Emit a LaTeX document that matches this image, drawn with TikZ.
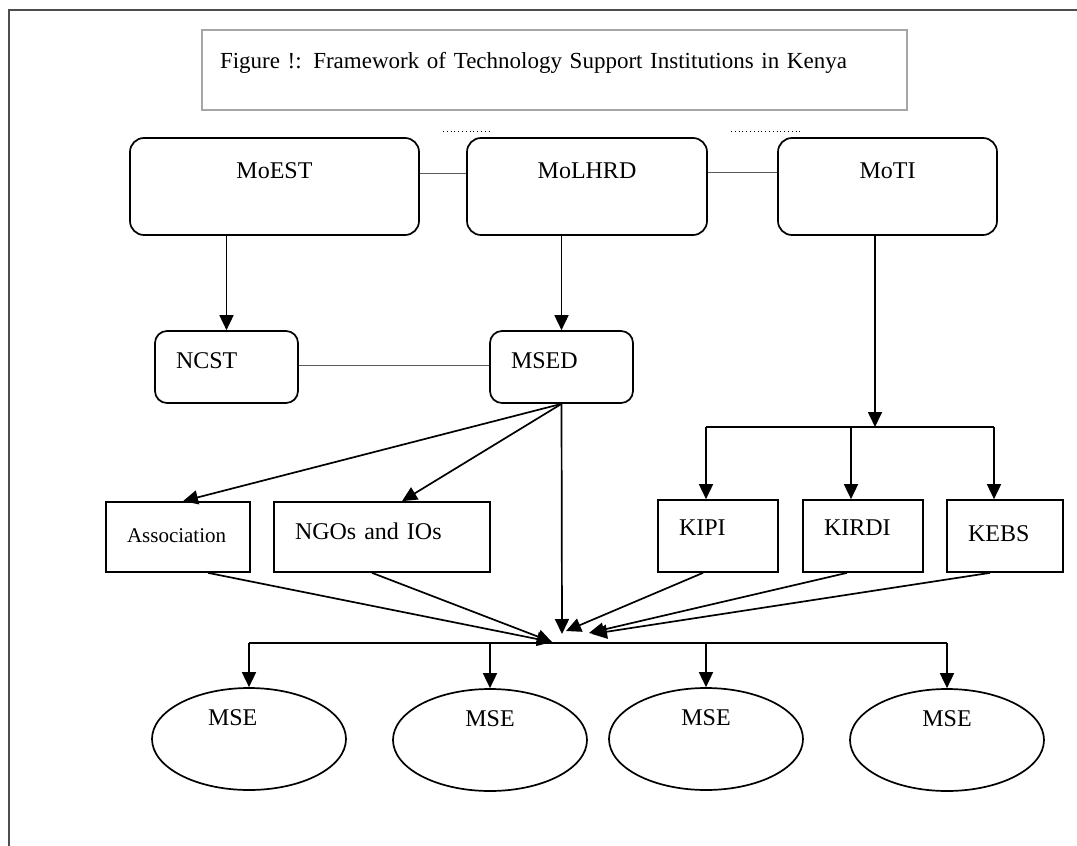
\documentclass[tikz,border=0pt]{standalone}
\usepackage{fontspec}
\setmainfont{Liberation Serif}
\usepackage{tikz}
\usetikzlibrary{
  arrows.meta,
  positioning,
  shapes.geometric,
  calc
}
\definecolor{FrameGrey}{HTML}{4D4D4D}
\definecolor{TitleGrey}{HTML}{A6A6A6}
\definecolor{LinkGrey}{HTML}{5A5A5A}
\newcommand\boxfont{\fontsize{24}{27}\selectfont}
\newcommand\titlefont{\fontsize{23}{26}\selectfont}

\begin{document}
\begin{tikzpicture}[x=1pt,y=-1pt,
    ministry/.style={draw,line width=1.7pt,rounded corners=14pt,font=\boxfont,
      minimum height=97pt,text height=16pt,text depth=33pt},
    agency/.style={draw,line width=1.7pt,rounded corners=12pt,font=\boxfont,
      minimum height=72pt,inner xsep=21pt,align=left,text height=16pt,text depth=14pt},
    unit/.style={draw,line width=1.7pt,font=\boxfont,minimum height=72pt,
      inner xsep=21pt,align=left,text height=16pt,text depth=17pt},
    mse/.style={draw,ellipse,line width=1.7pt,font=\boxfont,minimum width=194pt,
      minimum height=102pt,inner sep=0pt,text height=16pt,text depth=44pt},
    link/.style={draw=LinkGrey,line width=1pt},
    tree/.style={line width=1.7pt},
    arr/.style={tree,-{Triangle[length=15pt,width=14pt]}}]
  \useasboundingbox (0,0) rectangle (1077,846);
  \draw[FrameGrey,line width=2.2pt] (9,846) -- (9,10) -- (1077,10);

  % title
  \node[draw=TitleGrey,line width=1.4pt,minimum height=80pt,text width=669pt,
        inner xsep=18pt,align=left,font=\titlefont,text height=15pt,text depth=18pt]
        (title) at (554.5,70) {Figure !: Framework of Technology Support Institutions in Kenya};
  \draw[line width=1pt,dash pattern=on 1pt off 2.8pt] (443,131) -- (489,131);
  \draw[line width=1pt,dash pattern=on 1pt off 2.8pt] (731,131) -- (801,131);

  % ministries
  \node[ministry,minimum width=289pt] (moest)  at (274.5,186.5) {MoEST};
  \node[ministry,minimum width=240pt] (molhrd) at (587,186.5)   {MoLHRD};
  \node[ministry,minimum width=219pt] (moti)   at (887.5,186.5) {MoTI};
  \draw[link] ([yshift=13pt]moest.east)  -- ([yshift=13pt]molhrd.west);
  \draw[link] ([yshift=14pt]molhrd.east) -- ([yshift=14pt]moti.west);

  % second level
  \node[agency,text width=101pt] (ncst) at (226.5,367) {NCST};
  \node[agency,text width=101pt] (msed) at (561.5,367) {MSED};
  \draw[link] ([yshift=2pt]ncst.east) -- ([yshift=2pt]msed.west);
  \draw[arr] (moest.south -| ncst.north) -- (ncst.north);
  \draw[arr] (molhrd.south -| msed.north) -- (msed.north);

  % support bodies
  \node[unit,text width=102pt,font=\fontsize{21}{24}\selectfont,text height=14pt,text depth=4pt,
        minimum height=70pt] (assoc) at (178,537) {Association};
  \node[unit,text width=174pt,text depth=11pt,minimum height=70pt] (ngos) at (382,537) {NGOs and IOs};
  \node[unit,text width=78pt] (kipi)  at (718,536)  {KIPI};
  \node[unit,text width=78pt] (kirdi) at (863,536)  {KIRDI};
  \node[unit,text width=74pt,text depth=5pt] (kebs) at (1005,536) {KEBS};

  \draw[arr] (msed.south) -- ([xshift=5pt]assoc.north);
  \draw[arr] (msed.south) -- ([xshift=20pt]ngos.north);

  \coordinate (kfork) at (875,427);
  \draw[arr] (moti.south -| kfork) -- (kfork);
  \draw[tree] ([xshift=-12pt]kipi.north |- kfork) -- ([xshift=-11pt]kebs.north |- kfork);
  \foreach \n/\s in {kipi/-12,kirdi/-12,kebs/-11}
    \draw[arr] ([xshift=\s pt]\n.north |- kfork) -- ([xshift=\s pt]\n.north);

  % enterprises
  \node[mse,text width=82pt,align=left] (mse1) at (249,739) {MSE};
  \node[mse] (mse2) at (490,740) {MSE};
  \node[mse] (mse3) at (706,739) {MSE};
  \node[mse] (mse4) at (947,740) {MSE};

  % everything meets at the hub
  \coordinate (hub) at (562,634);
  \coordinate (hubbar) at (562,643);
  \draw[arr] (msed.south) -- (hub);
  \draw[arr] ([xshift=30pt]assoc.south) -- ([xshift=-10pt,yshift=-8pt]hub);
  \draw[arr] ([xshift=-10pt]ngos.south)  -- ([xshift=-10pt,yshift=-8pt]hub);
  \draw[arr] ([xshift=-15pt]kipi.south)  -- ([xshift=4pt,yshift=3pt]hub);
  \draw[arr] ([xshift=-16pt]kirdi.south) -- ([xshift=27pt,yshift=1pt]hub);
  \draw[arr] ([xshift=-15pt]kebs.south)  -- ([xshift=30pt]hub);
  \draw[tree] (mse1.north |- hubbar) -- (mse4.north |- hubbar);
  \foreach \n in {mse1,mse2,mse3,mse4}
    \draw[arr] (\n.north |- hubbar) -- (\n.north);
\end{tikzpicture}
\end{document}
